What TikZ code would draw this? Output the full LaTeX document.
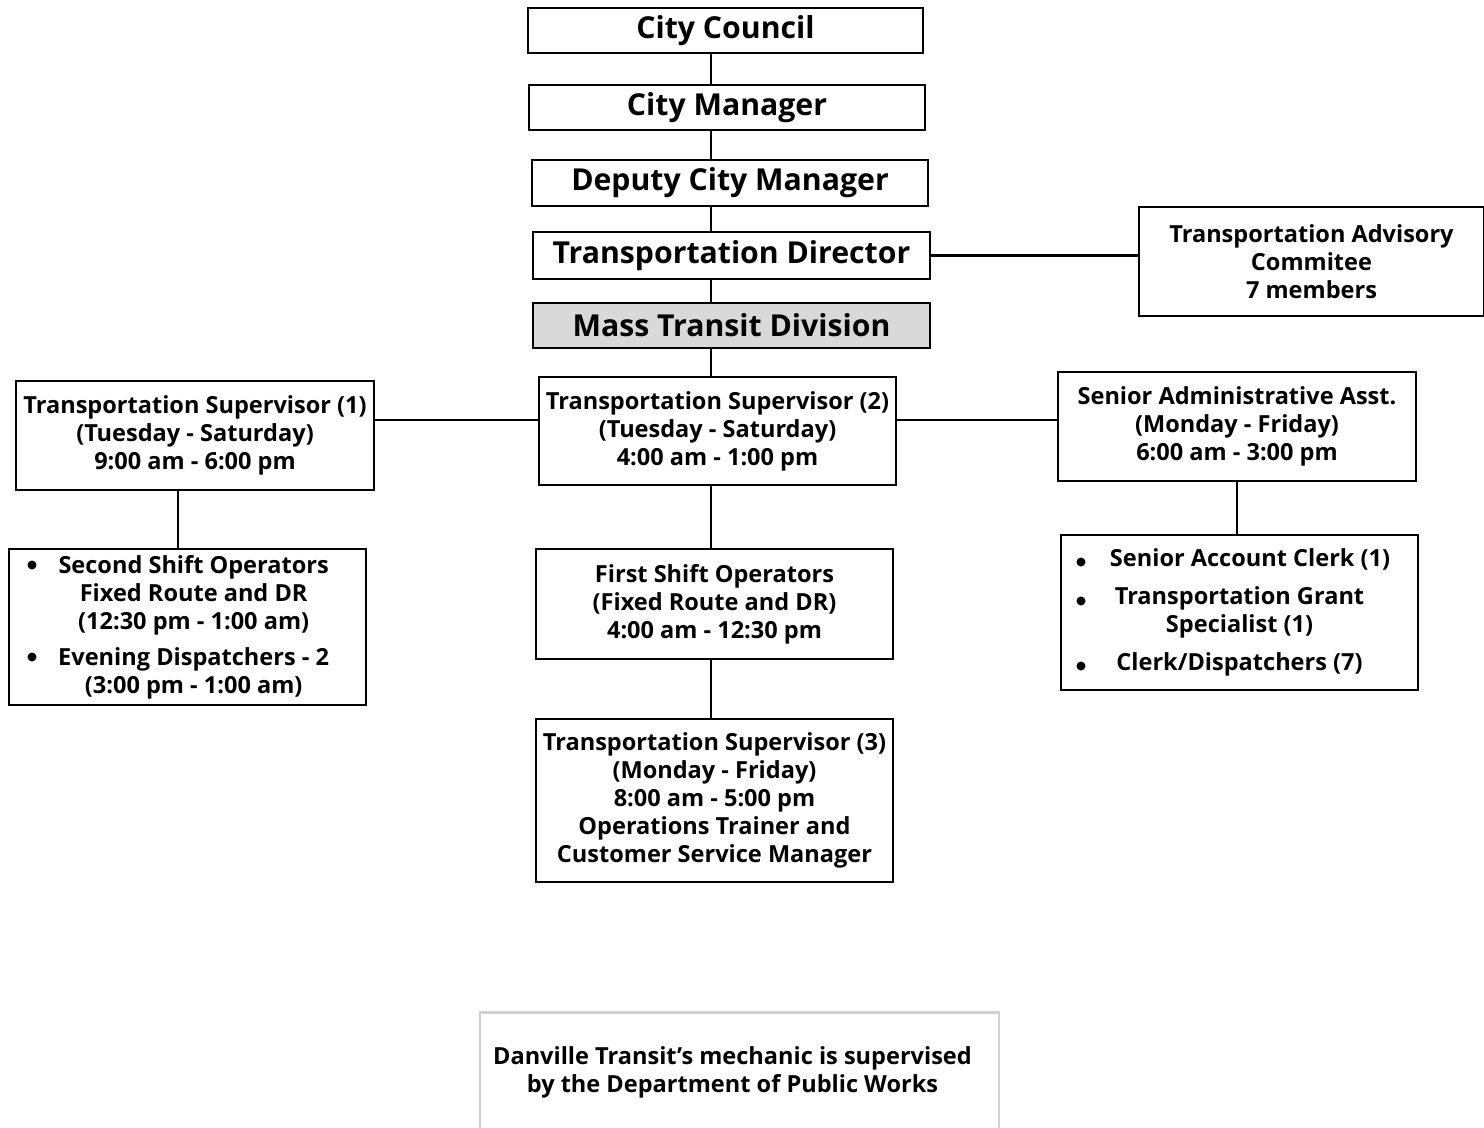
\documentclass[tikz,border=0pt]{standalone}
\usepackage{fontspec}
\IfFontExistsTF{Open Sans SemiBold}
  {\newfontfamily\chartfont{Open Sans SemiBold}}
  {\newfontfamily\chartbase{Open Sans}\newcommand{\chartfont}{\chartbase\bfseries}}
\usetikzlibrary{positioning}

\tikzset{
  unit/.style={draw, line width=1.5pt, fill=white, inner sep=0pt, align=center},
  headbox/.style={unit, font=\chartfont\fontsize{17.2}{20}\selectfont},
  staffbox/.style={unit, font=\chartfont\fontsize{13.4}{15.9}\selectfont},
  link/.style={line width=1.4pt},
  dot/.style={fill=black}
}

\begin{document}
\begin{tikzpicture}[x=0.02cm,y=-0.02cm]
\useasboundingbox (0,0) rectangle (1484,1127);

% chain of command
\node[headbox, minimum width=7.90cm, minimum height=0.90cm] (council)  at (725.5,30.5) {City Council};
\node[headbox, minimum width=7.92cm, minimum height=0.90cm] (manager)  at (727,107.5) {City Manager};
\node[headbox, minimum width=7.92cm, minimum height=0.92cm] (deputy)   at (730,183) {Deputy City Manager};
\node[headbox, minimum width=7.94cm, minimum height=0.94cm] (director) at (731.5,255.5) {Transportation Director};
\node[headbox, fill=black!15, minimum width=7.94cm, minimum height=0.90cm] (division) at (731.5,325.5) {Mass Transit Division};
\node[staffbox, minimum width=6.90cm, minimum height=2.18cm] (advisory) at (1311.5,261.5)
  {Transportation Advisory\\Commitee\\7 members};

% supervisors
\node[staffbox, minimum width=7.16cm, minimum height=2.18cm] (sup1) at (195,435.5)
  {Transportation Supervisor (1)\\(Tuesday - Saturday)\\9:00 am - 6:00 pm};
\node[staffbox, minimum width=7.14cm, minimum height=2.16cm] (sup2) at (717.5,431)
  {Transportation Supervisor (2)\\(Tuesday - Saturday)\\4:00 am - 1:00 pm};
\node[staffbox, minimum width=7.16cm, minimum height=2.18cm] (senior) at (1237,426.5)
  {Senior Administrative Asst.\\(Monday - Friday)\\6:00 am - 3:00 pm};

% staff
\node[staffbox, minimum width=7.14cm, minimum height=3.12cm] (ops2) at (187.5,627)
  {\hspace{7pt}Second Shift Operators\\\hspace{7pt}Fixed Route and DR\\\hspace{7pt}(12:30 pm - 1:00 am)\\[4.5pt]
   \hspace{7pt}Evening Dispatchers - 2\\\hspace{7pt}(3:00 pm - 1:00 am)};
\node[staffbox, minimum width=7.14cm, minimum height=2.20cm] (ops1) at (714.5,604)
  {First Shift Operators\\(Fixed Route and DR)\\4:00 am - 12:30 pm};
\node[staffbox, minimum width=7.14cm, minimum height=3.26cm] (sup3) at (714.5,800.5)
  {Transportation Supervisor (3)\\(Monday - Friday)\\8:00 am - 5:00 pm\\Operations Trainer and\\Customer Service Manager};
\node[staffbox, minimum width=7.14cm, minimum height=3.10cm] (clerks) at (1239.5,612.5)
  {\hspace{12pt}Senior Account Clerk (1)\\[5.7pt]Transportation Grant\\Specialist (1)\\[5.7pt]Clerk/Dispatchers (7)};

\node[staffbox, draw=black!18, minimum width=10.38cm, minimum height=2.38cm] (note) at (739.5,1072)
  {Danville Transit’s mechanic is supervised\hspace{8pt}\mbox{}\\by the Department of Public Works\hspace{8pt}\mbox{}};

% bullets
\fill[dot] (32,565) circle (0.09cm);
\fill[dot] (32,657) circle (0.09cm);
\fill[dot] (1081,562) circle (0.09cm);
\fill[dot] (1081,601) circle (0.09cm);
\fill[dot] (1081,666) circle (0.09cm);

% connectors
\coordinate (spine) at (711,0);
\coordinate (row) at (0,420);
\coordinate (leftdrop) at (178,0);
\draw[link] (council.south -| spine) -- (manager.north -| spine);
\draw[link] (manager.south -| spine) -- (deputy.north -| spine);
\draw[link] (deputy.south -| spine) -- (director.north -| spine);
\draw[link] (director.south -| spine) -- (division.north -| spine);
\draw[link] (division.south -| spine) -- (sup2.north -| spine);
\draw[link] (sup2.south -| spine) -- (ops1.north -| spine);
\draw[link] (ops1.south -| spine) -- (sup3.north -| spine);
\draw[link] (director.east) -- (director.east -| advisory.west);
\draw[link] (sup1.east |- row) -- (sup2.west |- row);
\draw[link] (sup2.east |- row) -- (senior.west |- row);
\draw[link] (sup1.south -| leftdrop) -- (ops2.north -| leftdrop);
\draw[link] (senior.south) -- (senior.south |- clerks.north);
\end{tikzpicture}
\end{document}
